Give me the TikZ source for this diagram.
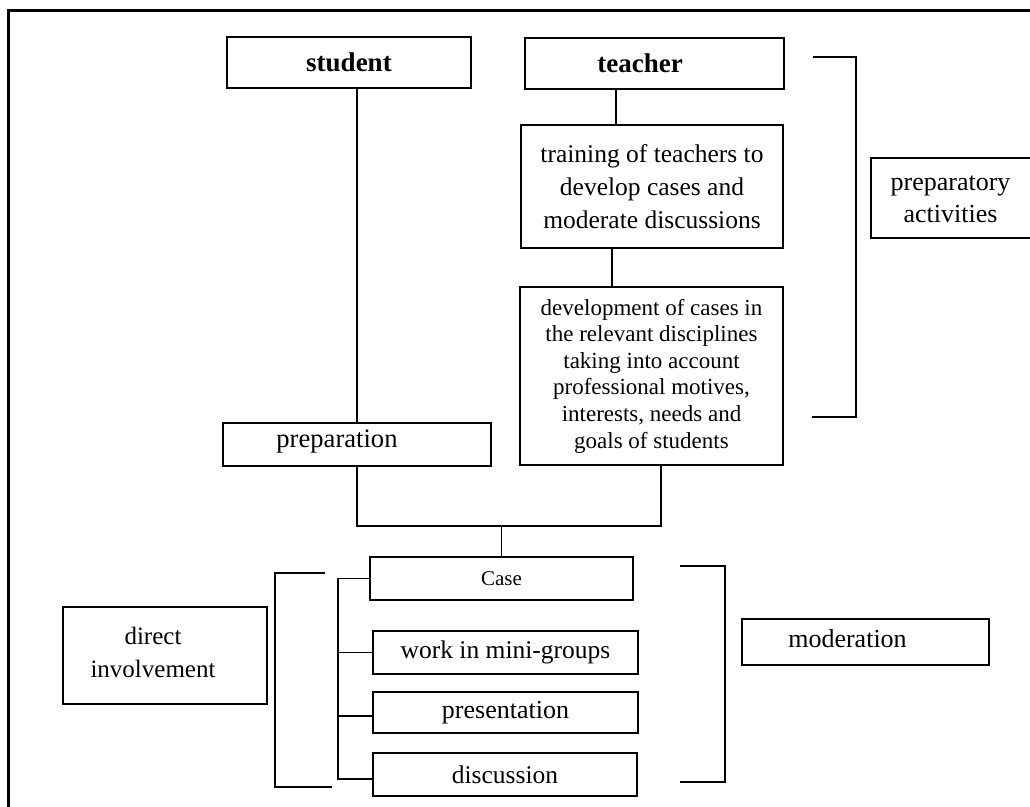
\documentclass[tikz,border=0pt]{standalone}
\usepackage{fontspec}
\setmainfont{Liberation Serif}
\begin{document}
\begin{tikzpicture}[x=1pt,y=-1pt,
  box/.style={draw, line width=1.8pt, inner sep=0pt, align=center},
  ln/.style={line width=1.8pt},
  lbl/.style={inner sep=0pt, align=center},
  fbig/.style={font=\fontsize{26}{32}\selectfont}]
\useasboundingbox (0,0) rectangle (1030,806);
\clip (0,0) rectangle (1030,806);
% outer frame (only top and left edges visible)
\draw[line width=3pt] (8,830) -- (8,10) -- (1060,10);

% top row
\node[box, minimum width=244pt, minimum height=51pt, font=\fontsize{27}{32}\selectfont\bfseries] (student) at (349,62.5) {student};
\node[box, minimum width=259pt, minimum height=51pt] (teacher) at (654.5,63.5) {};
\node[lbl, font=\fontsize{27}{32}\selectfont\bfseries] (teacherT) at (640,63.5) {teacher};

\node[box, minimum width=262pt, minimum height=123pt, font=\fontsize{25.5}{33}\selectfont] (training) at (652,186.5)
  {training of teachers to\\develop cases and\\moderate discussions};
\node[box, minimum width=263pt, minimum height=178pt, font=\fontsize{23}{26.6}\selectfont] (dev) at (651.5,376)
  {development of cases in\\the relevant disciplines\\taking into account\\professional motives,\\interests, needs and\\goals of students};

\node[box, minimum width=180pt, minimum height=80pt] (prepact) at (961,198) {};
\node[lbl, fbig] (prepactT) at (950.5,199) {preparatory\\activities};

\node[box, minimum width=268pt, minimum height=43pt] (prep) at (357,444.5) {};
\node[lbl, font=\fontsize{26.6}{32}\selectfont] (prepT) at (337,442) {preparation};

% bottom group
\node[box, minimum width=263pt, minimum height=43pt, font=\fontsize{21}{26}\selectfont] (case) at (501.5,578.5) {Case};
\node[box, minimum width=265pt, minimum height=43pt, font=\fontsize{25.5}{32}\selectfont] (mini) at (505.5,652.5) {work in mini-groups};
\node[box, minimum width=265pt, minimum height=41pt, fbig] (pres) at (505.5,712.5) {presentation};
\node[box, minimum width=264pt, minimum height=43pt, font=\fontsize{25.5}{32}\selectfont] (disc) at (505,774.5) {discussion};

\node[box, minimum width=204pt, minimum height=97pt] (direct) at (165,655.5) {};
\node[lbl, font=\fontsize{25}{33}\selectfont] (directT) at (153,652) {direct\\involvement};

\node[box, minimum width=247pt, minimum height=46pt] (moder) at (865.5,642) {};
\node[lbl, fbig] (moderT) at (847.5,639) {moderation};

% connectors
\draw[ln] (prep.north |- student.south) -- (prep.north);
\draw[ln] ([xshift=-38.5pt]teacher.south) -- ([xshift=-38.5pt]teacher.south |- training.north);
\draw[ln] ([xshift=-40pt]training.south) -- ([xshift=-40pt]training.south |- dev.north);
\coordinate (jR) at (661,526);
\draw[ln] (prep.south) |- (jR) -- (jR |- dev.south);
\draw[ln] (case.north) -- (case.north |- jR);

\coordinate (sp) at (338,0);
\coordinate (discIn) at ([yshift=-4.5pt]disc.west);
\coordinate (presIn) at ([yshift=-3.5pt]pres.west);
\draw[ln] (case.west) -| (sp |- discIn) -- (discIn);
\draw[ln] (mini.west) -- (mini.west -| sp);
\draw[ln] (presIn) -- (presIn -| sp);

% brackets
\coordinate (pa1) at (813,57);
\coordinate (pa2) at (856,57);
\coordinate (pa3) at (856,417);
\coordinate (pa4) at (812,417);
\draw[ln] (pa1) -- (pa2) -- (pa3) -- (pa4);

\coordinate (di1) at (325,573);
\coordinate (di2) at (275,573);
\coordinate (di3) at (275,787);
\coordinate (di4) at (332,787);
\draw[ln] (di1) -- (di2) -- (di3) -- (di4);

\coordinate (mo1) at (680,566);
\coordinate (mo2) at (725,566);
\coordinate (mo3) at (725,782);
\coordinate (mo4) at (680,782);
\draw[ln] (mo1) -- (mo2) -- (mo3) -- (mo4);
\end{tikzpicture}
\end{document}
